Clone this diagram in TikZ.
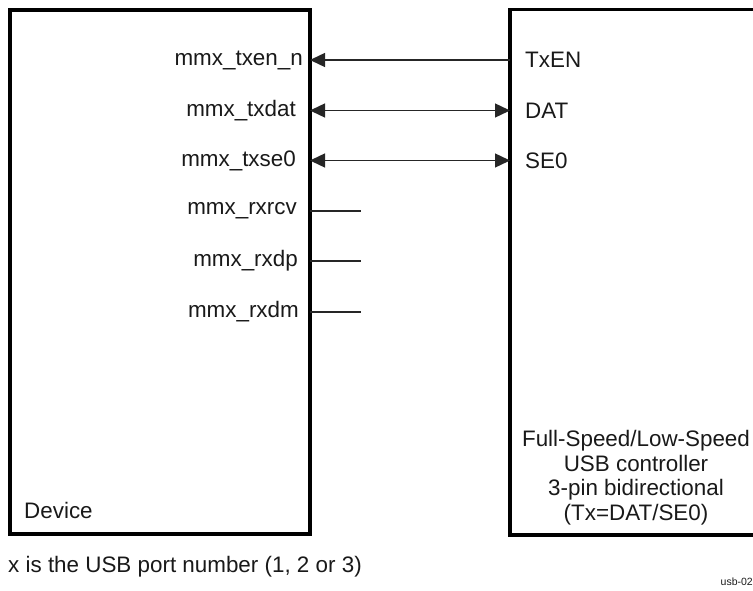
\documentclass[tikz,border=0pt]{standalone}
\usepackage{fontspec}
\setmainfont{Liberation Sans}
\usetikzlibrary{arrows.meta}
\begin{document}
\begin{tikzpicture}[x=1pt,y=-1pt,
  box/.style={draw=black,line width=3.5pt,inner sep=0pt,outer sep=0pt},
  lbl/.style={font=\fontsize{22.4}{25}\selectfont,inner sep=0pt,text=black!90},
  sig/.style={line width=1.4pt,draw=black!85}]
\useasboundingbox (0,0) rectangle (753,591);
\node[box,minimum width=300pt,minimum height=524pt,anchor=north west] (dev) at (10,10) {};
\node[box,minimum width=280pt,minimum height=525.5pt,anchor=north west] (ctl) at (510,9.5) {};
% left labels
\node[lbl,anchor=east] (l1) at (303,60) {mmx\_txen\_n};
\node[lbl,anchor=east] (l2) at (296,110.5) {mmx\_txdat};
\node[lbl,anchor=east] (l3) at (296,160.5) {mmx\_txse0};
\node[lbl,anchor=east] (l4) at (297,211) {mmx\_rxrcv};
\node[lbl,anchor=east] (l5) at (298,261) {mmx\_rxdp};
\node[lbl,anchor=east] (l6) at (299,312) {mmx\_rxdm};
% right labels
\node[lbl,anchor=west] (r1) at (525,60) {TxEN};
\node[lbl,anchor=west] (r2) at (525,110.5) {DAT};
\node[lbl,anchor=west] (r3) at (525,160.5) {SE0};
% stub ends
\coordinate (s4) at (361,211);
\coordinate (s5) at (361,261);
\coordinate (s6) at (361,312);
% connectors
\draw[sig,-{Triangle[length=15pt,width=14pt]}] (ctl.west |- r1) -- (dev.east |- l1);
\draw[sig,{Triangle[length=15pt,width=14pt]}-{Triangle[length=15pt,width=14pt]}] (dev.east |- l2) -- (ctl.west |- r2);
\draw[sig,{Triangle[length=15pt,width=14pt]}-{Triangle[length=15pt,width=14pt]}] (dev.east |- l3) -- (ctl.west |- r3);
\draw[sig] (dev.east |- l4) -- (s4);
\draw[sig] (dev.east |- l5) -- (s5);
\draw[sig] (dev.east |- l6) -- (s6);
% box texts
\node[lbl,anchor=west] (devt) at (24,510) {Device};
\node[lbl,align=center,font=\fontsize{22.4}{24.5}\selectfont] (ctlt) at (636,477.5) {Full-Speed/Low-Speed\\USB controller\\3-pin bidirectional\\(Tx=DAT/SE0)};
\node[lbl,anchor=west] (note) at (8,567) {x is the USB port number (1, 2 or 3)};
\node[lbl,anchor=east,font=\fontsize{10.5}{12}\selectfont] (tag) at (753,582) {usb-02};
\end{tikzpicture}
\end{document}
